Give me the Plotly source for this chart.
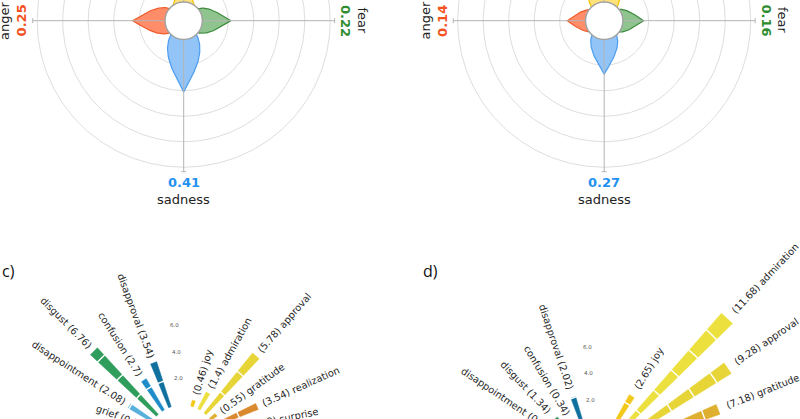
import numpy as np
import plotly.graph_objects as go

W, H = 800, 419

# ---------------- data: panels a) and b) (emotion petals) ----------------
petal_names = ["joy", "fear", "sadness", "anger"]
petal_dirs = [90, 0, 270, 180]
petal_values_a = [0.12, 0.22, 0.41, 0.25]
petal_values_b = [0.43, 0.16, 0.27, 0.14]
ring_ticks = [0.2, 0.4, 0.6, 0.8, 1.0]

# ---------------- data: panels c) and d) (radial bars) ----------------
c_names = ["surprise", "realization", "gratitude", "approval", "admiration", "joy",
           "disapproval", "confusion", "disgust", "disappointment", "grief"]
c_values = [1.98, 3.54, 0.55, 5.78, 1.4, 0.46, 3.54, 2.7, 6.76, 2.08, 0.1]
c_slots = [1, 2, 3, 4, 5, 6, 9, 10, 11, 12, 13]

d_names = ["gratitude", "approval", "admiration", "joy",
           "disapproval", "confusion", "disgust", "disappointment"]
d_values = [7.18, 9.28, 11.68, 2.65, 2.02, 0.34, 1.34, 0.21]
d_slots = [2, 3, 4, 5, 9, 10, 11, 12]

bar_tick_labels = [2.0, 4.0, 6.0]
bar_grid = [2, 4, 6, 8, 10]

# ---------------- colours ----------------
petal_fill = {"joy": "#ffe27a", "fear": "#8fc48f", "sadness": "#92c4f8", "anger": "#ff8d6a"}
petal_line = {"joy": "#f2c200", "fear": "#3d8b3d", "sadness": "#4c9def", "anger": "#f25a2a"}
petal_text = {"joy": "#f2c200", "fear": "#2e8b2e", "sadness": "#2491f0", "anger": "#f4511e"}
bar_colors = {
    "surprise": "#d27a2c", "realization": "#d98a2f", "gratitude": "#dfb02f",
    "approval": "#e7d538", "admiration": "#ebe03e", "joy": "#f2c81a",
    "disapproval": "#10719f", "confusion": "#1e8cc8", "disgust": "#2f9d5c",
    "disappointment": "#56b0dc", "grief": "#6cbbe0",
}

# ---------------- geometry / style constants ----------------
S_TOP = 127.5             # px per unit, top panels
RO_TOP = 19 / S_TOP       # radial origin offset
HOLE = 18.7 / S_TOP
R_AXIS = RO_TOP + 1.035
TOP_Y = (0, 209)
S_BOT = 13.33             # px per unit, bottom panels
BAR_W = 4.5               # deg
TICK_ANG = 93.5
BOT_Y = (228, 419)
LABEL_SIZE = 9.8

CW = {'a': .613, 'b': .635, 'c': .550, 'd': .635, 'e': .615, 'f': .352, 'g': .635,
      'h': .634, 'i': .278, 'j': .278, 'k': .579, 'l': .278, 'm': .974, 'n': .634,
      'o': .612, 'p': .635, 'q': .635, 'r': .411, 's': .521, 't': .392, 'u': .634,
      'v': .592, 'w': .818, 'x': .592, 'y': .592, 'z': .525, '(': .390, ')': .390,
      '.': .318, ' ': .318}


def text_width(s, size):
    return sum(CW.get(ch, .636) for ch in s) * size


fig = go.Figure()


def add_axes(idx, xpx, ypx, cx, cy, s):
    xr = [(xpx[0] - cx) / s, (xpx[1] - cx) / s]
    yr = [(cy - ypx[1]) / s, (cy - ypx[0]) / s]
    n = "" if idx == 1 else str(idx)
    fig.update_layout(**{
        f"xaxis{n}": dict(domain=[xpx[0] / W, xpx[1] / W], range=xr, visible=False,
                          fixedrange=True, anchor=f"y{n}"),
        f"yaxis{n}": dict(domain=[1 - ypx[1] / H, 1 - ypx[0] / H], range=yr, visible=False,
                          fixedrange=True, anchor=f"x{n}"),
    })
    return f"x{n}", f"y{n}"


def line_trace(x, y, xa, ya, color, width, fill=None, fillcolor=None):
    return go.Scatter(x=x, y=y, mode="lines", xaxis=xa, yaxis=ya,
                      line=dict(color=color, width=width), fill=fill, fillcolor=fillcolor,
                      hoverinfo="skip", showlegend=False)


def petal_xy(v, direction, n=90):
    L = RO_TOP + v
    wmax = 0.15 * L + 5.5 / S_TOP
    t = np.linspace(0, 1, n)
    along = L * t
    half = wmax * np.sin(np.pi * t ** 0.75)
    a = np.concatenate([along, along[::-1]])
    p = np.concatenate([half, -half[::-1]])
    th = np.deg2rad(direction)
    return a * np.cos(th) - p * np.sin(th), a * np.sin(th) + p * np.cos(th)


def draw_petal_panel(idx, xpx, cx, cy, values):
    xa, ya = add_axes(idx, xpx, TOP_Y, cx, cy, S_TOP)
    th = np.linspace(0, 2 * np.pi, 361)
    for t in ring_ticks:
        r = RO_TOP + t
        fig.add_trace(line_trace(r * np.cos(th), r * np.sin(th), xa, ya, "#dedede", 1))
    for name, d, v in zip(petal_names, petal_dirs, values):
        px_, py_ = petal_xy(v, d)
        fig.add_trace(line_trace(px_, py_, xa, ya, petal_line[name], 1.2,
                                 fill="toself", fillcolor=petal_fill[name]))
    cap = 2.5 / S_TOP
    for d in [0, 90, 180, 270]:
        a = np.deg2rad(d)
        ex, ey = R_AXIS * np.cos(a), R_AXIS * np.sin(a)
        nx, ny = -np.sin(a), np.cos(a)
        fig.add_trace(line_trace([0, ex, None, ex - cap * nx, ex + cap * nx],
                                 [0, ey, None, ey - cap * ny, ey + cap * ny],
                                 xa, ya, "#b4b4b4", 1))
    fig.add_shape(type="circle", xref=xa, yref=ya, x0=-HOLE, y0=-HOLE, x1=HOLE, y1=HOLE,
                  fillcolor="white", line=dict(color="#a3a3a3", width=1.5), layer="above")
    rot = {0: 90, 180: -90, 270: 0, 90: 0}
    for name, d, v in zip(petal_names, petal_dirs, values):
        a = np.deg2rad(d)
        rv, rl = 162 / S_TOP, 178.5 / S_TOP
        fig.add_annotation(x=rv * np.cos(a), y=rv * np.sin(a), xref=xa, yref=ya,
                           text=f"<b>{v:.2f}</b>", showarrow=False, textangle=rot[d],
                           font=dict(family="DejaVu Sans", size=13, color=petal_text[name]),
                           xanchor="center", yanchor="middle")
        fig.add_annotation(x=rl * np.cos(a), y=rl * np.sin(a), xref=xa, yref=ya,
                           text=name, showarrow=False, textangle=rot[d],
                           font=dict(family="DejaVu Sans", size=13, color="#222222"),
                           xanchor="center", yanchor="middle")


def draw_bar_panel(idx, xpx, cx, cy, names, values, slots, step, offset,
                   ro_px, gap_px, tick_shift_px):
    xa, ya = add_axes(idx, xpx, BOT_Y, cx, cy, S_BOT)
    ro = ro_px / S_BOT
    for name, v, k in zip(names, values, slots):
        ang = k * step + offset
        arc = np.deg2rad(np.linspace(ang - BAR_W / 2, ang + BAR_W / 2, 12))
        r_in, r_out = ro, ro + v
        xs = np.concatenate([r_in * np.cos(arc), r_out * np.cos(arc[::-1])])
        ys = np.concatenate([r_in * np.sin(arc), r_out * np.sin(arc[::-1])])
        col = bar_colors[name]
        fig.add_trace(go.Scatter(x=np.append(xs, xs[0]), y=np.append(ys, ys[0]),
                                 mode="lines", fill="toself", fillcolor=col,
                                 line=dict(color=col, width=0.5), xaxis=xa, yaxis=ya,
                                 hoverinfo="skip", showlegend=False))
    th = np.linspace(0, np.pi, 500)
    for g in bar_grid:
        r = ro + g
        fig.add_trace(line_trace(r * np.cos(th), r * np.sin(th), xa, ya, "white", 1.4))
    ta = np.deg2rad(TICK_ANG)
    for t in bar_tick_labels:
        r = ro + t + tick_shift_px / S_BOT
        fig.add_annotation(x=r * np.cos(ta), y=r * np.sin(ta), xref=xa, yref=ya,
                           text=f"{t:.1f}", showarrow=False,
                           font=dict(family="DejaVu Sans", size=5.5, color="#555555"),
                           xanchor="center", yanchor="middle")
    for name, v, k in zip(names, values, slots):
        ang = k * step + offset
        a = np.deg2rad(ang)
        if ang < 90:
            label = f"({v:g}) {name}"
            tangle = -ang
        else:
            label = f"{name} ({v:g})"
            tangle = 180 - ang
        rc = ro + v + (gap_px + text_width(label, LABEL_SIZE) / 2) / S_BOT
        fig.add_annotation(x=rc * np.cos(a), y=rc * np.sin(a), xref=xa, yref=ya,
                           text=label, showarrow=False, textangle=tangle,
                           font=dict(family="DejaVu Sans", size=LABEL_SIZE, color="#262626"),
                           xanchor="center", yanchor="middle")


draw_petal_panel(1, (0, 400), 183.7, 20.7, petal_values_a)
draw_petal_panel(2, (400, 800), 604.2, 20.7, petal_values_b)
draw_bar_panel(3, (0, 400), 182, 440, c_names, c_values, c_slots, 12.3, -0.5, 35, 6, 0)
draw_bar_panel(4, (400, 800), 594, 459, d_names, d_values, d_slots, 12.4, -3.0, 38, 9, -5.5)

for txt, xp in [("c)", 0.0), ("d)", 421 / W)]:
    fig.add_annotation(x=xp, y=1 - 270.5 / H, xref="paper", yref="paper", text=txt,
                       showarrow=False, xanchor="left", yanchor="middle",
                       font=dict(family="Open Sans", size=16, color="#111111"))

fig.update_layout(width=W, height=H, margin=dict(l=0, r=0, t=0, b=0),
                  paper_bgcolor="white", plot_bgcolor="white", showlegend=False)

fig.write_html("out.html", config={"displayModeBar": False, "staticPlot": True},
               post_script="document.body.style.margin='0px';"
                           "document.body.style.overflow='hidden';")
